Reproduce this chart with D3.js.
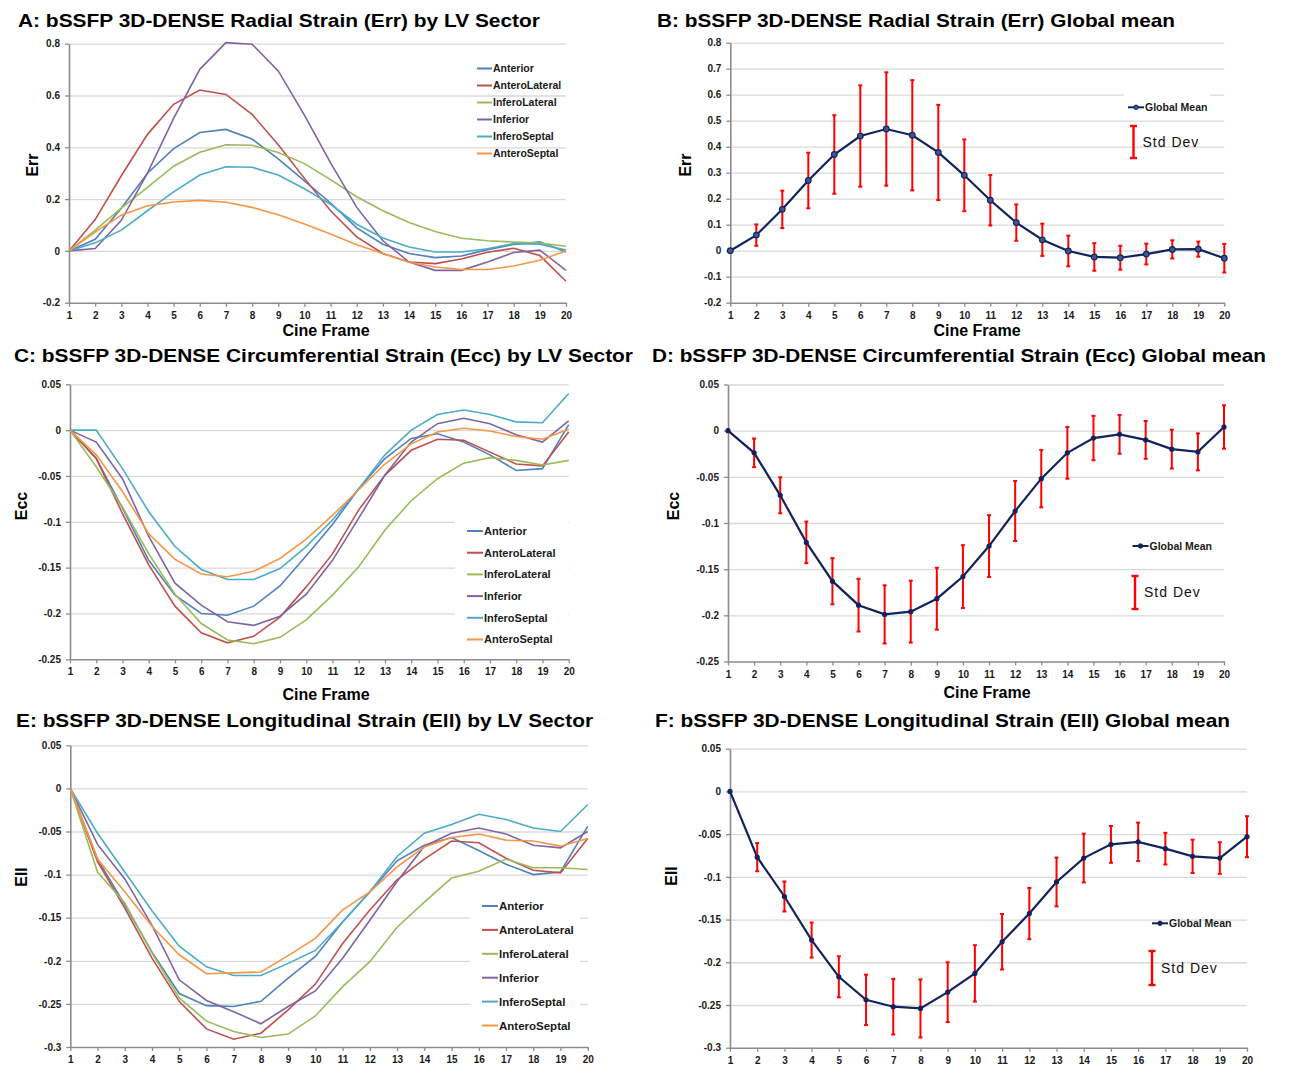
<!doctype html>
<html lang="en">
  <head>
    <meta charset="utf-8">
    <title>bSSFP 3D-DENSE strain curves</title>
    <style>
      body{margin:0;background:#fff;}
      text{font-family:"Liberation Sans",Arial,sans-serif;}
      .tick text{font-weight:bold;font-size:10px;fill:#1a1a1a;}
    </style>
  </head>
  <body>
    <script src="https://cdn.jsdelivr.net/npm/d3@7/dist/d3.min.js"></script>
    <script>

      // cine frames (x categories)
      var frames = [1,2,3,4,5,6,7,8,9,10,11,12,13,14,15,16,17,18,19,20];

      var sectors = ["Anterior","AnteroLateral","InferoLateral","Inferior","InferoSeptal","AnteroSeptal"];
      var sectorColors = ["#4f81bd","#c0504d","#9bbb59","#8064a2","#4bacc6","#f79646"];

      // A: radial strain by sector (rows follow "sectors")
      var errSectors = [
        [0,0.045,0.165,0.30,0.395,0.457,0.469,0.432,0.355,0.27,0.185,0.089,0.026,-0.01,-0.026,-0.02,0.005,0.025,0.035,-0.004],
        [0,0.121,0.29,0.45,0.566,0.621,0.604,0.527,0.41,0.28,0.155,0.054,-0.01,-0.043,-0.049,-0.031,-0.005,0.01,-0.018,-0.117],
        [0,0.08,0.165,0.245,0.327,0.381,0.41,0.408,0.38,0.337,0.275,0.209,0.155,0.11,0.075,0.049,0.039,0.034,0.03,0.018],
        [0,0.009,0.118,0.3,0.512,0.701,0.804,0.798,0.695,0.524,0.34,0.168,0.039,-0.043,-0.075,-0.075,-0.043,-0.006,0.003,-0.075],
        [0,0.031,0.08,0.155,0.228,0.293,0.325,0.323,0.293,0.24,0.18,0.103,0.05,0.015,-0.004,-0.004,0.008,0.028,0.026,0.003],
        [0,0.073,0.138,0.174,0.189,0.195,0.188,0.168,0.14,0.104,0.065,0.024,-0.01,-0.044,-0.062,-0.072,-0.072,-0.058,-0.036,0]
      ];
      // B: radial strain global mean and std dev
      var errMean = [0,0.06,0.159,0.27,0.37,0.441,0.468,0.444,0.378,0.29,0.194,0.108,0.042,-0.001,-0.024,-0.027,-0.013,0.005,0.006,-0.029];
      var errSd   = [0,0.041,0.072,0.107,0.151,0.195,0.218,0.212,0.183,0.138,0.097,0.07,0.062,0.059,0.053,0.046,0.04,0.035,0.029,0.055];

      // C: circumferential strain by sector
      var eccSectors = [
        [0,-0.031,-0.085,-0.142,-0.18,-0.2,-0.202,-0.192,-0.17,-0.137,-0.103,-0.064,-0.031,-0.009,-0.004,-0.013,-0.027,-0.044,-0.042,0.006],
        [0,-0.031,-0.091,-0.147,-0.192,-0.221,-0.232,-0.225,-0.204,-0.171,-0.135,-0.087,-0.049,-0.022,-0.01,-0.011,-0.024,-0.037,-0.039,-0.002],
        [0,-0.04,-0.084,-0.135,-0.179,-0.211,-0.229,-0.233,-0.226,-0.207,-0.18,-0.149,-0.109,-0.077,-0.053,-0.036,-0.03,-0.033,-0.038,-0.033],
        [0,-0.013,-0.053,-0.116,-0.167,-0.191,-0.209,-0.213,-0.203,-0.179,-0.142,-0.096,-0.049,-0.013,0.007,0.013,0.007,-0.005,-0.013,0.01],
        [0,0,-0.042,-0.089,-0.127,-0.152,-0.163,-0.163,-0.151,-0.127,-0.098,-0.064,-0.027,0,0.017,0.022,0.017,0.009,0.008,0.04],
        [0,-0.027,-0.067,-0.113,-0.141,-0.157,-0.16,-0.154,-0.14,-0.119,-0.093,-0.065,-0.037,-0.015,-0.002,0.002,-0.001,-0.007,-0.01,0.001]
      ];
      // D
      var eccMean = [0,-0.024,-0.07,-0.121,-0.163,-0.189,-0.199,-0.196,-0.182,-0.158,-0.125,-0.087,-0.052,-0.024,-0.008,-0.004,-0.01,-0.02,-0.023,0.004];
      var eccSd   = [0,0.0155,0.0195,0.0225,0.025,0.0285,0.0315,0.0335,0.0335,0.034,0.0335,0.0325,0.031,0.028,0.024,0.021,0.0205,0.021,0.02,0.0235];

      // E: longitudinal strain by sector
      var ellSectors = [
        [0,-0.082,-0.135,-0.19,-0.238,-0.252,-0.253,-0.247,-0.22,-0.195,-0.155,-0.12,-0.084,-0.066,-0.057,-0.072,-0.088,-0.1,-0.097,-0.044],
        [0,-0.085,-0.139,-0.197,-0.247,-0.279,-0.291,-0.284,-0.257,-0.227,-0.18,-0.141,-0.106,-0.082,-0.061,-0.063,-0.081,-0.095,-0.098,-0.058],
        [0,-0.097,-0.133,-0.191,-0.243,-0.27,-0.282,-0.289,-0.285,-0.264,-0.23,-0.201,-0.161,-0.132,-0.104,-0.096,-0.082,-0.092,-0.092,-0.094],
        [0,-0.065,-0.105,-0.159,-0.222,-0.246,-0.259,-0.273,-0.253,-0.235,-0.197,-0.153,-0.108,-0.067,-0.052,-0.046,-0.053,-0.066,-0.069,-0.05],
        [0,-0.052,-0.097,-0.142,-0.183,-0.207,-0.217,-0.217,-0.203,-0.188,-0.155,-0.12,-0.079,-0.052,-0.042,-0.03,-0.036,-0.046,-0.05,-0.019],
        [0,-0.082,-0.12,-0.16,-0.193,-0.215,-0.214,-0.213,-0.194,-0.174,-0.141,-0.12,-0.091,-0.068,-0.057,-0.053,-0.06,-0.061,-0.067,-0.058]
      ];
      // F
      var ellMean = [0,-0.077,-0.123,-0.174,-0.217,-0.244,-0.252,-0.254,-0.235,-0.213,-0.176,-0.143,-0.106,-0.078,-0.062,-0.059,-0.067,-0.076,-0.078,-0.053];
      var ellSd   = [0,0.0165,0.0175,0.0205,0.024,0.0295,0.0325,0.034,0.035,0.033,0.0325,0.03,0.0285,0.0285,0.0215,0.0225,0.0185,0.0195,0.0185,0.024];

      // y tick labels
      var errTicksSector = [-0.2,0,0.2,0.4,0.6,0.8];
      var errTicksMean   = [-0.2,-0.1,0,0.1,0.2,0.3,0.4,0.5,0.6,0.7,0.8];
      var eccTicks = [-0.25,-0.2,-0.15,-0.1,-0.05,0,0.05];
      var ellTicks = [-0.3,-0.25,-0.2,-0.15,-0.1,-0.05,0,0.05];

      var navy = "#12235c";

      var svg = d3.select("body").append("svg")
        .attr("width", 1304)
        .attr("height", 1077);

      function frame(p) {
        var g = svg.append("g");
        var x = d3.scaleLinear().domain([1,20]).range([p.left, p.right]);
        var y = d3.scaleLinear().domain([p.ticks[0], p.ticks[p.ticks.length-1]]).range([p.bottom, p.top]);

        // grid
        var grid = g.append("g")
          .attr("transform", "translate(" + p.left + ",0)")
          .call(d3.axisLeft(y).tickValues(p.ticks.slice(1)).tickSize(-(p.right - p.left)).tickFormat(""));
        grid.select(".domain").remove();
        grid.selectAll("line").attr("stroke", "#d9d9d9").attr("stroke-width", 1.3);

        // axes
        var ya = g.append("g")
          .attr("transform", "translate(" + p.left + ",0)")
          .call(d3.axisLeft(y).tickValues(p.ticks).tickSize(4).tickSizeOuter(0).tickPadding(5).tickFormat(function(d){ return String(d); }));
        var xa = g.append("g")
          .attr("transform", "translate(0," + p.bottom + ")")
          .call(d3.axisBottom(x).tickValues(frames).tickSize(4).tickSizeOuter(0).tickPadding(5).tickFormat(function(d){ return d; }));
        [ya, xa].forEach(function(a){
          a.select(".domain").attr("stroke", "#8c8c8c").attr("stroke-width", 1.6);
          a.selectAll(".tick line").attr("stroke", "#8c8c8c").attr("stroke-width", 1.3);
        });

        // title and axis labels
        g.append("text")
          .attr("x", p.titleX).attr("y", p.titleY)
          .attr("font-size", 18.5).attr("font-weight", "bold")
          .attr("textLength", p.titleW).attr("lengthAdjust", "spacingAndGlyphs")
          .text(p.title);
        g.append("text")
          .attr("transform", "translate(" + p.ylabX + "," + p.ylabY + ") rotate(-90)")
          .attr("text-anchor", "middle").attr("font-size", 16).attr("font-weight", "bold")
          .text(p.ylab);
        if (p.xlabY) {
          g.append("text")
            .attr("x", p.xlabX).attr("y", p.xlabY)
            .attr("text-anchor", "middle").attr("font-size", 16).attr("font-weight", "bold")
            .text("Cine Frame");
        }
        return {g: g, x: x, y: y};
      }

      function sectorPanel(p, series) {
        var c = frame(p);
        var line = d3.line()
          .x(function(d,i){ return c.x(frames[i]); })
          .y(function(d){ return c.y(d); });

        if (p.legBox) {
          c.g.append("rect")
            .attr("x", p.legBox[0]).attr("y", p.legBox[1])
            .attr("width", p.legBox[2]).attr("height", p.legBox[3])
            .attr("fill", "#fff");
        }

        c.g.selectAll(".sector")
          .data(series)
          .enter()
          .append("path")
          .attr("class", "sector")
          .attr("d", line)
          .attr("fill", "none")
          .attr("stroke", function(d,i){ return sectorColors[i]; })
          .attr("stroke-width", 1.6);

        var leg = c.g.selectAll(".leg")
          .data(sectors)
          .enter()
          .append("g")
          .attr("transform", function(d,i){ return "translate(" + p.legX + "," + (p.legY + i*p.legDy) + ")"; });
        leg.append("line")
          .attr("x1", 0).attr("x2", p.legLen)
          .attr("stroke", function(d,i){ return sectorColors[i]; })
          .attr("stroke-width", 2);
        leg.append("text")
          .attr("x", p.legLen + 1).attr("dy", "0.35em")
          .attr("font-size", p.legFont).attr("font-weight", "bold").attr("fill", "#1a1a1a")
          .text(function(d){ return d; });
      }

      function meanPanel(p, mean, sd) {
        var c = frame(p);
        var line = d3.line()
          .x(function(d,i){ return c.x(frames[i]); })
          .y(function(d){ return c.y(d); });

        if (p.legBox) {
          c.g.append("rect")
            .attr("x", p.legBox[0]).attr("y", p.legBox[1])
            .attr("width", p.legBox[2]).attr("height", p.legBox[3])
            .attr("fill", "#fff");
        }

        c.g.append("path")
          .datum(mean)
          .attr("d", line)
          .attr("fill", "none")
          .attr("stroke", navy)
          .attr("stroke-width", 2.2);

        // error bars
        var bars = c.g.selectAll(".err")
          .data(mean.map(function(m,i){ return {f: frames[i], m: m, s: sd[i]}; }).filter(function(d){ return d.s > 0; }))
          .enter()
          .append("g")
          .attr("stroke", "#ff0000")
          .attr("stroke-width", 2);
        bars.append("line")
          .attr("x1", function(d){ return c.x(d.f); }).attr("x2", function(d){ return c.x(d.f); })
          .attr("y1", function(d){ return c.y(d.m + d.s); }).attr("y2", function(d){ return c.y(d.m - d.s); });
        bars.append("line")
          .attr("x1", function(d){ return c.x(d.f) - 2; }).attr("x2", function(d){ return c.x(d.f) + 2; })
          .attr("y1", function(d){ return c.y(d.m + d.s); }).attr("y2", function(d){ return c.y(d.m + d.s); });
        bars.append("line")
          .attr("x1", function(d){ return c.x(d.f) - 2; }).attr("x2", function(d){ return c.x(d.f) + 2; })
          .attr("y1", function(d){ return c.y(d.m - d.s); }).attr("y2", function(d){ return c.y(d.m - d.s); });

        c.g.selectAll(".pt")
          .data(mean)
          .enter()
          .append("circle")
          .attr("cx", function(d,i){ return c.x(frames[i]); })
          .attr("cy", function(d){ return c.y(d); })
          .attr("r", p.markR)
          .attr("fill", p.markFill)
          .attr("stroke", navy)
          .attr("stroke-width", 1.2);

        // legend
        var lg = c.g.append("g").attr("transform", "translate(" + p.legX + "," + p.legY + ")");
        lg.append("line").attr("x1", 0).attr("x2", 16).attr("stroke", navy).attr("stroke-width", 2);
        lg.append("circle").attr("cx", 8).attr("r", 2.2).attr("fill", p.markFill).attr("stroke", navy);
        lg.append("text")
          .attr("x", 17).attr("dy", "0.35em")
          .attr("font-size", 10.5).attr("font-weight", "bold").attr("fill", "#1a1a1a")
          .text("Global Mean");

        var sg = c.g.append("g").attr("transform", "translate(" + p.sdX + "," + p.sdY + ")")
          .attr("stroke", "#ff0000").attr("stroke-width", 2.4);
        sg.append("line").attr("y1", -p.sdH/2).attr("y2", p.sdH/2);
        sg.append("line").attr("x1", -3.5).attr("x2", 3.5).attr("y1", -p.sdH/2).attr("y2", -p.sdH/2);
        sg.append("line").attr("x1", -3.5).attr("x2", 3.5).attr("y1", p.sdH/2).attr("y2", p.sdH/2);
        c.g.append("text")
          .attr("x", p.sdX + 9).attr("y", p.sdY).attr("dy", "0.35em")
          .attr("font-family", "DejaVu Sans").attr("font-size", 14).attr("letter-spacing", 1).attr("fill", "#111")
          .text("Std Dev");
      }

      sectorPanel({
        left: 69, right: 566, top: 43.7, bottom: 302.7, ticks: errTicksSector,
        title: "A: bSSFP 3D-DENSE Radial Strain (Err) by LV Sector", titleX: 18, titleY: 27, titleW: 522,
        ylab: "Err", ylabX: 38, ylabY: 165, xlabX: 326, xlabY: 336,
        legX: 477, legY: 68.5, legDy: 17, legLen: 15, legFont: 10.5
      }, errSectors);

      meanPanel({
        left: 730.3, right: 1224.3, top: 42.7, bottom: 302.7, ticks: errTicksMean,
        title: "B: bSSFP 3D-DENSE Radial Strain (Err) Global mean", titleX: 657, titleY: 27, titleW: 518,
        ylab: "Err", ylabX: 691, ylabY: 165, xlabX: 977, xlabY: 336,
        legBox: [1124, 94, 86, 26], legX: 1128, legY: 107.3,
        sdX: 1133.5, sdY: 142, sdH: 32,
        markR: 2.8, markFill: "#3b5a91"
      }, errMean, errSd);

      sectorPanel({
        left: 70, right: 568.7, top: 384.3, bottom: 659.3, ticks: eccTicks,
        title: "C: bSSFP 3D-DENSE Circumferential Strain (Ecc) by LV Sector", titleX: 14, titleY: 362, titleW: 619,
        ylab: "Ecc", ylabX: 27, ylabY: 506, xlabX: 326, xlabY: 700,
        legBox: [455, 514, 113, 144], legX: 467, legY: 531, legDy: 21.7, legLen: 16, legFont: 11
      }, eccSectors);

      meanPanel({
        left: 728, right: 1224, top: 384.5, bottom: 661.5, ticks: eccTicks,
        title: "D: bSSFP 3D-DENSE Circumferential Strain (Ecc) Global mean", titleX: 652, titleY: 362, titleW: 614,
        ylab: "Ecc", ylabX: 679, ylabY: 506, xlabX: 987, xlabY: 698,
        legBox: null, legX: 1132.5, legY: 546,
        sdX: 1135, sdY: 592.5, sdH: 33,
        markR: 2, markFill: navy
      }, eccMean, eccSd);

      sectorPanel({
        left: 70.3, right: 587.7, top: 745.3, bottom: 1047, ticks: ellTicks,
        title: "E: bSSFP 3D-DENSE Longitudinal Strain (Ell) by LV Sector", titleX: 16, titleY: 727, titleW: 577,
        ylab: "Ell", ylabX: 27, ylabY: 877, xlabY: null,
        legBox: [470, 890, 110, 155], legX: 482, legY: 906, legDy: 23.9, legLen: 16, legFont: 11.5
      }, ellSectors);

      meanPanel({
        left: 730, right: 1247, top: 748.7, bottom: 1047.7, ticks: ellTicks,
        title: "F: bSSFP 3D-DENSE Longitudinal Strain (Ell) Global mean", titleX: 655, titleY: 727, titleW: 575,
        ylab: "Ell", ylabX: 677, ylabY: 876, xlabY: null,
        legBox: null, legX: 1152, legY: 923.3,
        sdX: 1152, sdY: 968, sdH: 34,
        markR: 2, markFill: navy
      }, ellMean, ellSd);

    </script>
  </body>
</html>
